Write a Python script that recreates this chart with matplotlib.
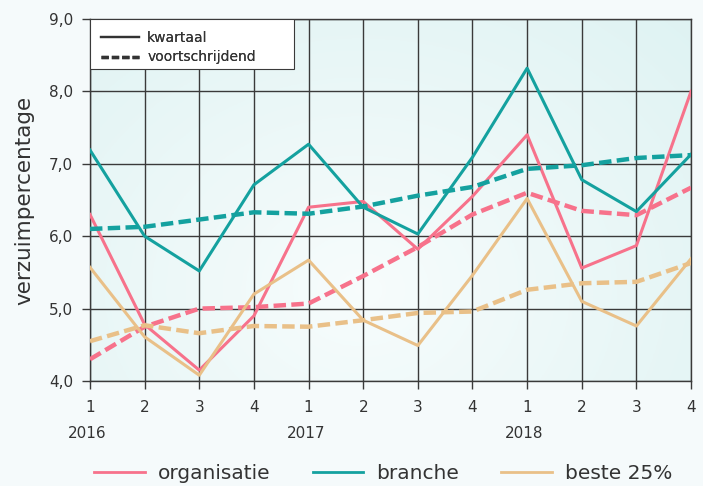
import numpy as np
import matplotlib
matplotlib.use("Agg")
from matplotlib import pyplot as plt
from matplotlib.lines import Line2D
from matplotlib.patches import Rectangle

# quarters 2016 Q1 .. 2018 Q4
quarters = ["1", "2", "3", "4"] * 3
years = ["2016", "2017", "2018"]

org_kw = [6.3, 4.78, 4.15, 4.9, 6.4, 6.48, 5.82, 6.55, 7.4, 5.56, 5.87, 8.0]
org_vs = [4.3, 4.75, 5.0, 5.02, 5.07, 5.45, 5.85, 6.3, 6.6, 6.35, 6.29, 6.67]
bra_kw = [7.19, 6.0, 5.52, 6.71, 7.27, 6.4, 6.03, 7.09, 8.32, 6.78, 6.34, 7.13]
bra_vs = [6.1, 6.13, 6.23, 6.33, 6.31, 6.41, 6.56, 6.68, 6.93, 6.98, 7.08, 7.12]
best_kw = [5.57, 4.61, 4.08, 5.2, 5.67, 4.84, 4.49, 5.46, 6.52, 5.1, 4.76, 5.69]
best_vs = [4.55, 4.77, 4.66, 4.76, 4.75, 4.84, 4.94, 4.96, 5.26, 5.35, 5.37, 5.63]

pink = "#f7728b"
teal = "#14a19f"
tan = "#e9c088"
txt = "#333333"

plt.rcParams['font.family'] = ['DejaVu Sans']

fig = plt.figure(figsize=(7.03, 4.86), dpi=100, facecolor="#f5fafb")
ax = fig.add_axes([0.128, 0.216, 0.855, 0.745])

x = np.arange(len(org_kw))

# gradient background
gx, gy = np.meshgrid(np.linspace(0, 1, 200), np.linspace(0, 1, 200))
d = np.sqrt(((gx - 0.45) / 0.8) ** 2 + ((gy - 0.25) / 1.1) ** 2)
d = np.clip(d, 0, 1)
c0 = np.array([0.97, 0.99, 0.99])
c1 = np.array([0.87, 0.95, 0.95])
img = c0[None, None, :] * (1 - d[..., None]) + c1[None, None, :] * d[..., None]
ax.imshow(img, extent=[0, 11, 4, 9], origin="lower", aspect="auto", zorder=0)

ax.set_xlim(0, 11)
ax.set_ylim(4, 9)
ax.set_xticks(x)
ax.set_xticklabels(quarters)
ax.set_yticks([4, 5, 6, 7, 8, 9])
ax.set_yticklabels(["4,0", "5,0", "6,0", "7,0", "8,0", "9,0"])
ax.grid(True, color="#3a3a3a", lw=1, zorder=1)
for s in ax.spines.values():
    s.set_color("#3a3a3a")
    s.set_linewidth(1)
ax.tick_params(colors="#3a3a3a", labelcolor=txt, labelsize=11, length=6, width=1)
ax.tick_params(axis="y", pad=6)
ax.tick_params(axis="x", pad=8)
fig.text(24 / 703, 1 - 200 / 486, "verzuimpercentage", rotation=90, ha="center",
         va="center", fontsize=15.5, color=txt)

for i, yr in enumerate(years):
    ax.text(i * 4 - 0.05, -0.145, yr, transform=ax.get_xaxis_transform(),
            ha="center", va="center", fontsize=11, color=txt)

for kw, vs, c in [(org_kw, org_vs, pink), (bra_kw, bra_vs, teal), (best_kw, best_vs, tan)]:
    ax.plot(x, kw, color=c, lw=2.2, zorder=3)
    ax.plot(x, vs, color=c, lw=3.2, ls=(0, (2.8, 1.2)), zorder=3)

# legend for line styles, box drawn by hand (wider than the text)
ax.add_patch(Rectangle((0, 0.862), 0.339, 0.138, transform=ax.transAxes,
                       facecolor="white", edgecolor="#3a3a3a", lw=0.8, zorder=5))
h1 = [Line2D([], [], color=txt, lw=1.6),
      Line2D([], [], color=txt, lw=2.4, ls=(0, (2.2, 0.9)))]
leg1 = ax.legend(h1, ["kwartaal", "voortschrijdend"], loc="upper left",
                 bbox_to_anchor=(0.012, 0.978), borderaxespad=0, fontsize=10,
                 frameon=False, handlelength=2.7, borderpad=0.3,
                 labelspacing=0.38, handletextpad=0.6)
leg1.set_zorder(6)
for t in leg1.get_texts():
    t.set_color(txt)
ax.add_artist(leg1)

h2 = [Line2D([], [], color=pink, lw=2),
      Line2D([], [], color=teal, lw=2),
      Line2D([], [], color=tan, lw=2)]
leg2 = fig.legend(h2, ["organisatie", "branche", "beste 25%"], loc="center",
                  bbox_to_anchor=(0.545, 0.025), ncol=3, frameon=False,
                  fontsize=14.5, handlelength=2.5, columnspacing=2.1,
                  handletextpad=0.65)
for t in leg2.get_texts():
    t.set_color(txt)

plt.savefig("out.png", dpi=100, facecolor=fig.get_facecolor())
